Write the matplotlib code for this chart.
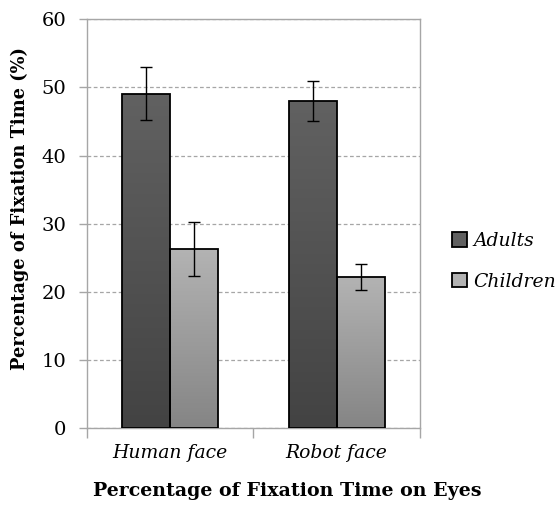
import numpy as np
import matplotlib.pyplot as plt
from matplotlib.colors import LinearSegmentedColormap

categories = ["Human face", "Robot face"]
groups = ["Adults", "Children"]
adults = [49.1, 48.0]
adults_err = [3.9, 3.0]
children = [26.3, 22.2]
children_err = [4.0, 1.9]

serif = ["DejaVu Serif", "Liberation Serif"]
plt.rcParams["font.family"] = serif

fig = plt.figure(figsize=(5.57, 5.05), dpi=100)
ax = fig.add_axes([0.156, 0.152, 0.598, 0.81])

x = np.arange(len(categories))
w = 0.287
grey = "#a6a6a6"

shades = {
    "Adults": ("#616161", "#434343"),
    "Children": ("#b3b3b3", "#858585"),
}


def gradient_bars(xs, vals, errs, name):
    top, bottom = shades[name]
    cmap = LinearSegmentedColormap.from_list(name, [bottom, top])
    bars = ax.bar(xs, vals, w, color=top, edgecolor="black", linewidth=1.3,
                  label=name, zorder=3)
    for b in bars:
        bx, by = b.get_x(), b.get_y()
        grad = np.linspace(0, 1, 100).reshape(-1, 1)
        im = ax.imshow(grad, cmap=cmap, origin="lower", aspect="auto",
                       extent=[bx, bx + b.get_width(), by, by + b.get_height()],
                       zorder=3.5)
        im.set_clip_path(b)
        b.set_facecolor("none")
        b.set_zorder(4)
    ax.errorbar(xs, vals, yerr=errs, fmt="none", ecolor="black",
                elinewidth=1.0, capsize=4.5, capthick=1.0, zorder=5)
    return bars


gradient_bars(x - w / 2, adults, adults_err, "Adults")
gradient_bars(x + w / 2, children, children_err, "Children")

ax.set_xlim(-0.5, 1.5)
ax.set_ylim(0, 60)
ax.set_yticks(range(0, 61, 10))
ax.yaxis.grid(True, linestyle=(0, (3, 2)), color=grey, linewidth=0.9, zorder=0)

for s in ax.spines.values():
    s.set_color(grey)
    s.set_linewidth(1.0)

ax.set_xticks([-0.5, 0.5, 1.5])
ax.set_xticklabels([])
ax.set_xticks(x, minor=True)
ax.set_xticklabels(categories, minor=True, fontstyle="italic", fontsize=13.5)
ax.tick_params(axis="x", which="minor", length=0, pad=11)
ax.tick_params(axis="x", which="major", length=7, color=grey, width=1.0)
ax.tick_params(axis="y", length=6, color=grey, width=1.0, labelsize=14, pad=9)

# axis titles sit relative to the whole figure, not the plot area
fig.text(0.515, 0.028, "Percentage of Fixation Time on Eyes", fontsize=13.7,
         fontweight="bold", ha="center", va="center")
fig.text(0.036, 0.588, "Percentage of Fixation Time (%)", fontsize=12.9,
         fontweight="bold", ha="center", va="center", rotation=90)

leg = ax.legend(loc="center left", bbox_to_anchor=(1.045, 0.408),
                frameon=False, prop={"style": "italic", "size": 13.5},
                handlelength=0.8, handleheight=0.8, handletextpad=0.35,
                labelspacing=1.2)
for h, (name, (top, bottom)) in zip(leg.legend_handles, shades.items()):
    h.set_facecolor(top)
    h.set_edgecolor("black")

fig.savefig("out.png", dpi=100)
